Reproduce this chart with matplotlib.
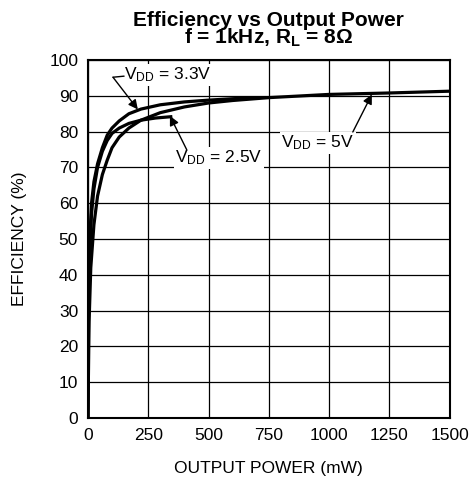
import matplotlib
matplotlib.use("Agg")
import matplotlib.pyplot as plt

plt.rcParams['font.family'] = ['Liberation Sans', 'DejaVu Sans']
plt.rcParams['mathtext.fontset'] = 'custom'
plt.rcParams['mathtext.rm'] = 'Liberation Sans'
plt.rcParams['mathtext.bf'] = 'Liberation Sans:bold'
plt.rcParams['mathtext.default'] = 'regular'

# curve data (mW, %)
p_25 = [0, 3, 8, 15, 25, 40, 60, 80, 100, 130, 170, 220, 280, 350]
eff_25 = [0, 32, 47, 57, 64, 70, 74.5, 77.5, 79.5, 81, 82.3, 83.2, 83.8, 84.2]

p_33 = [0, 3, 8, 15, 25, 40, 60, 80, 100, 130, 170, 220, 300, 400, 500, 600, 700]
eff_33 = [0, 35, 50, 60, 66, 71, 75.5, 79, 81, 83, 85, 86.3, 87.5, 88.3, 88.8, 89.2, 89.5]

p_5 = [0, 5, 12, 25, 40, 60, 80, 100, 130, 170, 220, 300, 400, 500, 600, 750, 1000, 1250, 1500]
eff_5 = [0, 27, 42, 54, 62, 68, 72, 75.5, 78.5, 81, 83.2, 85.3, 86.9, 88, 88.7, 89.5, 90.4, 90.8, 91.3]

x_ticks = [0, 250, 500, 750, 1000, 1250, 1500]
y_ticks = [0, 10, 20, 30, 40, 50, 60, 70, 80, 90, 100]

fig = plt.figure(figsize=(4.70, 4.87), dpi=100)
ax = fig.add_axes([0.187, 0.1417, 0.770, 0.735])

for p, e in [(p_25, eff_25), (p_33, eff_33), (p_5, eff_5)]:
    ax.plot(p, e, color='black', lw=2.3, solid_capstyle='butt')

ax.set_xlim(0, 1500)
ax.set_ylim(0, 100)
ax.set_xticks(x_ticks)
ax.set_yticks(y_ticks)
ax.tick_params(length=0, labelsize=12.5, pad=7)
ax.grid(True, color='black', lw=0.9)
ax.set_axisbelow(True)
for s in ax.spines.values():
    s.set_linewidth(1.5)

ax.set_xlabel("OUTPUT POWER (mW)", fontsize=12.5, labelpad=13)
ax.set_ylabel("EFFICIENCY (%)", fontsize=12.5, labelpad=16)
ax.set_title("Efficiency vs Output Power\n" + r"f = 1kHz, R$_{\bf{L}}$ = 8Ω",
             fontsize=15, fontweight='bold', linespacing=0.8, pad=12)

box = dict(fc='white', ec='none', pad=1)
arr = dict(arrowstyle='-|>', color='black', lw=1, mutation_scale=14,
           shrinkA=0, shrinkB=0)

# 3.3V label with bent leader
ax.text(150, 95.8, r"V$_{DD}$ = 3.3V", fontsize=12.5, ha='left', va='center', bbox=box)
ax.annotate("", xy=(150, 95.5), xytext=(104, 95.2),
            arrowprops=dict(arrowstyle='-', color='black', lw=1, shrinkA=0, shrinkB=0))
ax.annotate("", xy=(207, 86.2), xytext=(104, 95.2), arrowprops=arr)

# 2.5V label
ax.text(543, 72.6, r"V$_{DD}$ = 2.5V", fontsize=12.5, ha='center', va='center', bbox=box)
ax.annotate("", xy=(340, 84.4), xytext=(410, 74.9), arrowprops=arr)

# 5V label
ax.text(953, 76.8, r"V$_{DD}$ = 5V", fontsize=12.5, ha='center', va='center', bbox=box)
ax.annotate("", xy=(1177, 90.4), xytext=(1098, 79.9), arrowprops=arr)

fig.savefig("out.png", dpi=100)
